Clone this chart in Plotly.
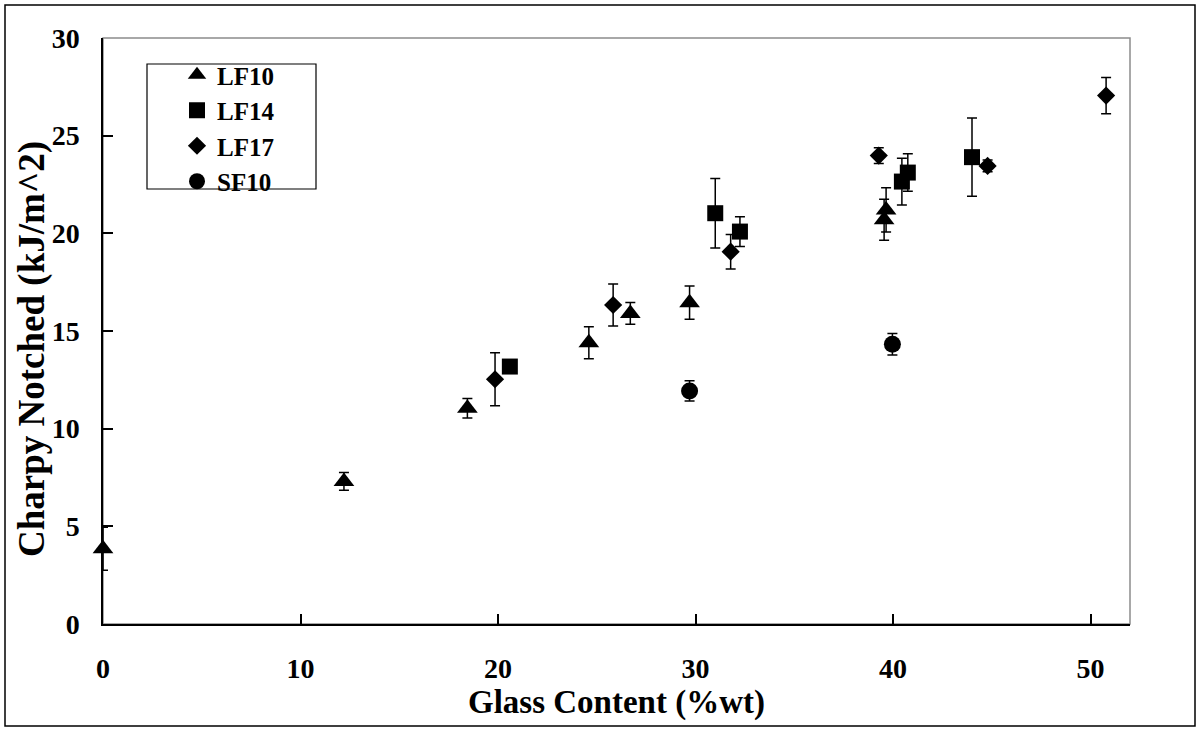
import plotly.graph_objects as go

# ---- data ----
lf10_x = [0.0, 12.2, 18.45, 24.6, 26.7, 29.7, 39.55, 39.65]
lf10_y = [3.85, 7.3, 11.05, 14.4, 15.9, 16.45, 20.7, 21.2]
lf10_e = [1.1, 0.45, 0.5, 0.82, 0.56, 0.85, 1.05, 1.13]

lf14_x = [20.6, 31.0, 32.25, 40.45, 40.75, 44.0]
lf14_y = [13.18, 21.03, 20.09, 22.65, 23.11, 23.9]
lf14_e = [0.3, 1.78, 0.76, 1.2, 0.96, 2.0]

lf17_x = [19.85, 25.83, 31.78, 39.28, 44.79, 50.79]
lf17_y = [12.53, 16.33, 19.06, 23.98, 23.45, 27.05]
lf17_e = [1.36, 1.08, 0.88, 0.4, 0.3, 0.93]

sf10_x = [29.7, 39.97]
sf10_y = [11.93, 14.32]
sf10_e = [0.52, 0.55]

x_ticks = [0, 10, 20, 30, 40, 50]
y_ticks = [0, 5, 10, 15, 20, 25, 30]

FONT = "Liberation Serif"

series = [
    ("LF10", lf10_x, lf10_y, lf10_e, "triangle-up", 18),
    ("LF14", lf14_x, lf14_y, lf14_e, "square", 16),
    ("LF17", lf17_x, lf17_y, lf17_e, "diamond", 14),
    ("SF10", sf10_x, sf10_y, sf10_e, "circle", 17),
]

fig = go.Figure()
for name, xs, ys, es, sym, sz in series:
    fig.add_trace(go.Scatter(
        x=xs, y=ys, name=name, mode="markers", cliponaxis=False,
        marker=dict(symbol=sym, size=sz, color="black", line=dict(width=0)),
        error_y=dict(type="data", array=es, symmetric=True, visible=True,
                     color="black", thickness=1.5, width=5),
    ))

W, H = 1200, 731
L, R, T, B = 103, 70, 38, 107
pw, ph = W - L - R, H - T - B

def px_x(p):
    return (p - L) / pw

def px_y(p):
    return (H - B - p) / ph

fig.update_layout(
    width=W, height=H,
    margin=dict(l=L, r=R, t=T, b=B),
    paper_bgcolor="white", plot_bgcolor="white",
    font=dict(family=FONT, color="black"),
    showlegend=True,
    legend=dict(
        x=px_x(177), y=px_y(128), xanchor="left", yanchor="middle",
        bgcolor="rgba(0,0,0,0)", borderwidth=0,
        font=dict(family=FONT, size=25, color="black", weight="bold"),
        itemsizing="trace",
    ),
    xaxis=dict(
        range=[0, 52], tickvals=x_ticks, ticktext=[str(v) for v in x_ticks],
        showgrid=False, zeroline=False,
        showline=True, linecolor="black", linewidth=1.5,
        ticks="inside", ticklen=10, tickwidth=1.5, tickcolor="black",
        tickfont=dict(family=FONT, size=28, color="black", weight="bold"),
        ticklabelstandoff=19,
    ),
    yaxis=dict(
        range=[0, 30], tickvals=y_ticks, ticktext=[str(v) for v in y_ticks],
        showgrid=False, zeroline=False,
        showline=True, linecolor="black", linewidth=1.5,
        ticks="inside", ticklen=10, tickwidth=1.5, tickcolor="black",
        tickfont=dict(family=FONT, size=28, color="black", weight="bold"),
        ticklabelstandoff=16,
    ),
    shapes=[
        # outer chart frame
        dict(type="rect", xref="paper", yref="paper",
             x0=px_x(5), x1=px_x(1195), y0=px_y(726), y1=px_y(5),
             line=dict(color="black", width=1.5), layer="below"),
        # plot-area border (gray top/right)
        dict(type="rect", xref="paper", yref="paper",
             x0=0, x1=1, y0=0, y1=1,
             line=dict(color="#8c8c8c", width=1.5), layer="below"),
        # legend box
        dict(type="rect", xref="paper", yref="paper",
             x0=px_x(147), x1=px_x(316), y0=px_y(189), y1=px_y(64),
             line=dict(color="black", width=1.2), fillcolor="white",
             layer="below"),
    ],
    annotations=[
        dict(text="<b>Glass Content (%wt)</b>", xref="paper", yref="paper",
             x=0.5, y=px_y(702), xanchor="center", yanchor="middle",
             showarrow=False, font=dict(family=FONT, size=33, color="black")),
        dict(text="<b>Charpy Notched (kJ/m^2)</b>", xref="paper", yref="paper",
             x=px_x(32), y=px_y(349), xanchor="center", yanchor="middle",
             textangle=-90, showarrow=False,
             font=dict(family=FONT, size=37, color="black")),
    ],
)

fig.write_html("out.html", config={"displayModeBar": False},
               post_script="document.body.style.margin='0';")
